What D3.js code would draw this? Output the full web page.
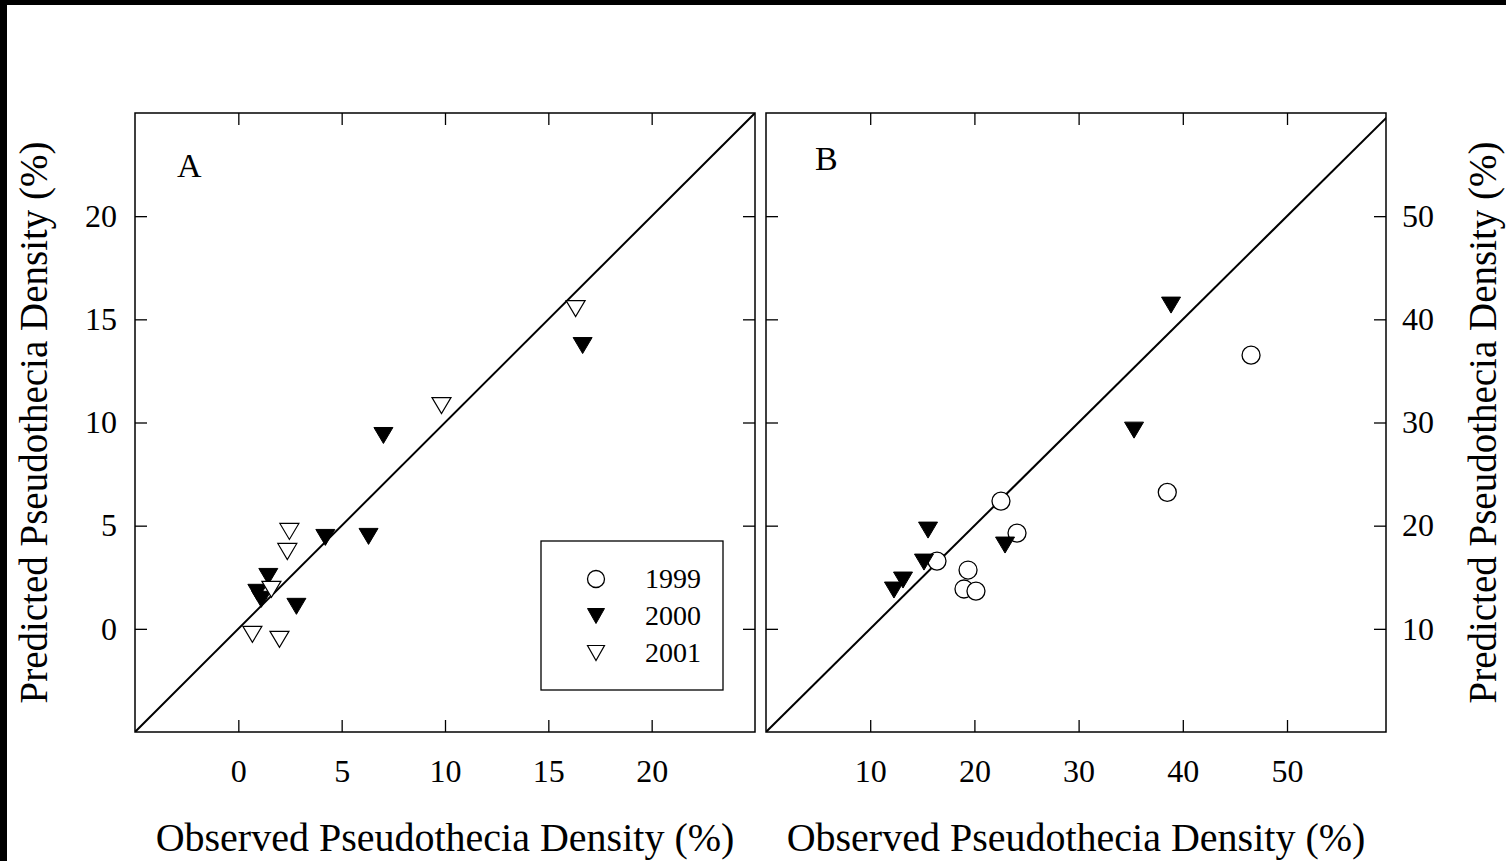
<!DOCTYPE html>
<html>
<head>
<meta charset="utf-8">
<script src="https://cdn.jsdelivr.net/npm/d3@7"></script>
<style>
  body { margin: 0; background: #fff; }
  svg { display: block; }
  text { font-family: "Liberation Serif", "Times New Roman", serif; fill: #000; }
</style>
</head>
<body>
<div id="chart"></div>
<script>
(function () {
    const W = 1506, H = 861;
    const font = '"Liberation Serif", "Times New Roman", serif';

    // panel A: observed vs predicted, 2000 and 2001
    const a2000 = [
        [16.66, 13.73], [7.02, 9.37], [4.21, 4.43], [6.30, 4.48],
        [1.45, 2.54], [0.92, 1.77], [1.11, 1.43], [2.81, 1.09]
    ];
    const a2001 = [
        [16.32, 15.52], [9.83, 10.82], [2.47, 4.72], [2.37, 3.75],
        [1.60, 1.91], [0.68, -0.27], [1.99, -0.51]
    ];

    // panel B: 1999 and 2000
    const b1999 = [
        [46.55, 36.53], [38.51, 23.23], [22.55, 22.38], [24.09, 19.28],
        [16.41, 16.57], [19.39, 15.70], [19.00, 13.86], [20.15, 13.66]
    ];
    const b2000 = [
        [38.87, 41.38], [35.32, 29.26], [15.55, 19.57], [22.94, 18.12],
        [15.16, 16.47], [13.15, 14.73], [12.28, 13.76]
    ];

    const aTicks = [0, 5, 10, 15, 20];
    const bTicks = [10, 20, 30, 40, 50];
    const legendYears = ["1999", "2000", "2001"];

    const svg = d3.select("#chart").append("svg")
        .attr("width", W)
        .attr("height", H);

    svg.append("rect").attr("width", W).attr("height", H).attr("fill", "#fff");
    // dark edges of the scanned figure
    svg.append("rect").attr("x", 0).attr("y", 0).attr("width", W).attr("height", 5).attr("fill", "#000");
    svg.append("rect").attr("x", 0).attr("y", 0).attr("width", 7).attr("height", H).attr("fill", "#000");

    const triPath = (w, h) => `M${-w / 2},${-h / 2}L${w / 2},${-h / 2}L0,${h / 2}Z`;

    function marker(g, type, x, y, big) {
        const r = big ? 9 : 8.5;
        const tw = big ? 19 : 17, th = big ? 16 : 15;
        if (type === "circle") {
            g.append("circle").attr("cx", x).attr("cy", y).attr("r", r)
                .attr("fill", "#fff").attr("stroke", "#000").attr("stroke-width", 1.3);
        } else {
            g.append("path").attr("d", triPath(tw, th))
                .attr("transform", `translate(${x},${y})`)
                .attr("fill", type === "filled" ? "#000" : "#fff")
                .attr("stroke", "#000").attr("stroke-width", type === "filled" ? 1 : 1.2);
        }
    }

    function styleAxis(g) {
        g.attr("font-family", font).attr("font-size", 32);
        g.select(".domain").remove();
        g.selectAll(".tick line").attr("stroke", "#000").attr("stroke-width", 1.3);
    }

    function drawPanel(cfg) {
        const x = d3.scaleLinear().domain(cfg.xDomain).range([cfg.left, cfg.right]);
        const y = d3.scaleLinear().domain(cfg.yDomain).range([cfg.bottom, cfg.top]);
        const g = svg.append("g");
        const clipId = "clip" + cfg.label;

        g.append("clipPath").attr("id", clipId).append("rect")
            .attr("x", cfg.left).attr("y", cfg.top)
            .attr("width", cfg.right - cfg.left).attr("height", cfg.bottom - cfg.top);

        // inward ticks on all four sides
        g.append("g").attr("transform", `translate(0,${cfg.bottom})`)
            .call(d3.axisBottom(x).tickValues(cfg.xTicks).tickSize(-12).tickPadding(27))
            .call(styleAxis);
        g.append("g").attr("transform", `translate(0,${cfg.top})`)
            .call(d3.axisTop(x).tickValues(cfg.xTicks).tickSize(-12).tickFormat(""))
            .call(styleAxis);

        const leftAxis = d3.axisLeft(y).tickValues(cfg.yTicks).tickSize(-12).tickPadding(18);
        const rightAxis = d3.axisRight(y).tickValues(cfg.yTicks).tickSize(-12).tickPadding(16);
        if (cfg.yLabelsRight) leftAxis.tickFormat("");
        else rightAxis.tickFormat("");

        g.append("g").attr("transform", `translate(${cfg.left},0)`).call(leftAxis).call(styleAxis);
        g.append("g").attr("transform", `translate(${cfg.right},0)`).call(rightAxis).call(styleAxis);

        g.append("rect")
            .attr("x", cfg.left).attr("y", cfg.top)
            .attr("width", cfg.right - cfg.left).attr("height", cfg.bottom - cfg.top)
            .attr("fill", "none").attr("stroke", "#000").attr("stroke-width", 1.5);

        // 1:1 line
        const lo = Math.min(cfg.xDomain[0], cfg.yDomain[0]);
        const hi = Math.max(cfg.xDomain[1], cfg.yDomain[1]);
        g.append("line")
            .attr("clip-path", `url(#${clipId})`)
            .attr("x1", x(lo)).attr("y1", y(lo))
            .attr("x2", x(hi)).attr("y2", y(hi))
            .attr("stroke", "#000").attr("stroke-width", 2);

        cfg.series.forEach(s => {
            s.data.forEach(d => marker(g, s.type, x(d[0]), y(d[1]), true));
        });

        g.append("text")
            .attr("x", cfg.labelPos[0]).attr("y", cfg.labelPos[1])
            .attr("font-size", 34)
            .text(cfg.label);

        g.append("text")
            .attr("x", (cfg.left + cfg.right) / 2).attr("y", 851)
            .attr("text-anchor", "middle")
            .attr("font-size", 40)
            .text("Observed Pseudothecia Density (%)");

        g.append("text")
            .attr("transform", `translate(${cfg.yTitleX},${(cfg.top + cfg.bottom) / 2}) rotate(-90)`)
            .attr("text-anchor", "middle")
            .attr("font-size", 39)
            .text("Predicted Pseudothecia Density (%)");

        return { x, y };
    }

    drawPanel({
        label: "A", labelPos: [177, 177],
        left: 135, right: 755, top: 113, bottom: 732,
        xDomain: [-5, 25], yDomain: [-5, 25],
        xTicks: aTicks, yTicks: aTicks,
        yLabelsRight: false, yTitleX: 47,
        series: [
            { type: "filled", data: a2000 },
            { type: "open", data: a2001 }
        ]
    });

    drawPanel({
        label: "B", labelPos: [815, 170],
        left: 766, right: 1386, top: 113, bottom: 732,
        xDomain: [0, 59.5], yDomain: [0, 60],
        xTicks: bTicks, yTicks: bTicks,
        yLabelsRight: true, yTitleX: 1496,
        series: [
            { type: "circle", data: b1999 },
            { type: "filled", data: b2000 }
        ]
    });

    // legend inside panel A
    const lg = svg.append("g");
    lg.append("rect")
        .attr("x", 541).attr("y", 541).attr("width", 182).attr("height", 149)
        .attr("fill", "#fff").attr("stroke", "#000").attr("stroke-width", 1.3);
    const legendTypes = ["circle", "filled", "open"];
    legendYears.forEach((yr, i) => {
        const cy = 579 + i * 37;
        marker(lg, legendTypes[i], 596, cy, false);
        lg.append("text")
            .attr("x", 645).attr("y", cy + 9)
            .attr("font-size", 28)
            .text(yr);
    });
})();
</script>
</body>
</html>
